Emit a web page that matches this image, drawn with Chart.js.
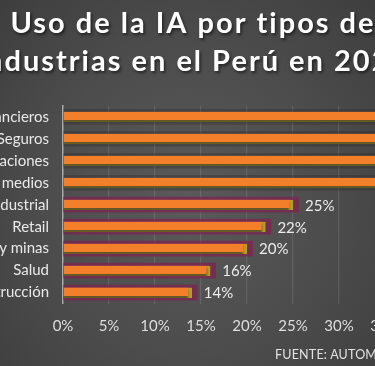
<!DOCTYPE html>
<html>
<head>
<meta charset="utf-8">
<script src="https://cdn.jsdelivr.net/npm/chart.js@4.4.1/dist/chart.umd.min.js"></script>
<style>
  html, body { margin:0; padding:0; }
  body { width:375px; height:366px; overflow:hidden; position:relative;
    background: radial-gradient(ellipse at 50% 55%, #5a5a5a 0%, #4c4c4c 55%, #3e3e3e 100%); }
  #wrap { position:absolute; left:-45px; top:0; width:491px; height:366px; }
  #src { position:absolute; left:275px; top:347px; font-family: Lato, sans-serif; font-size:12.5px;
    color:#e2e2e2; white-space:nowrap; letter-spacing:0.2px; }
</style>
</head>
<body>
<div id="wrap"><canvas id="c"></canvas></div>
<div id="src">FUENTE: AUTOMATIZACIÓN</div>
<script>
const categories = ["Servicios financieros","Banca y Seguros","Telecomunicaciones","Entretenimiento y medios","Sector industrial","Retail","Energía y minas","Salud","Construcción"];
const usoIA = [39, 38, 37, 36, 25, 22, 20, 16, 14];
const xTicks = [0, 5, 10, 15, 20, 25, 30, 35];
const titleLines = ["Uso de la IA por tipos de", "industrias en el Perú en 2023"];

const shadowColors = usoIA.map((v, i) => i < 4 ? 'rgba(35,35,35,0.3)' : 'rgba(125,35,80,0.75)');

const labelPlugin = {
  id: 'valLabels',
  afterDatasetsDraw(chart) {
    const meta = chart.getDatasetMeta(1);
    const ctx = chart.ctx;
    ctx.save();
    ctx.font = '15px Lato, sans-serif';
    ctx.fillStyle = '#ececec';
    ctx.textBaseline = 'middle';
    ctx.textAlign = 'left';
    meta.data.forEach((bar, i) => {
      ctx.fillText(usoIA[i] + '%', bar.x + 12, bar.y + 1);
    });
    ctx.restore();
  }
};
const shadowPlugin = {
  id: 'barShadow',
  afterInit(chart) {
    const tb = chart.titleBlock;
    if (tb && !tb._patched) {
      const orig = tb.draw;
      tb.draw = function() {
        const ctx = chart.ctx;
        ctx.save();
        ctx.letterSpacing = '2px';
        ctx.shadowColor = 'rgba(0,0,0,0.55)';
        ctx.shadowOffsetX = 1.5;
        ctx.shadowOffsetY = 2;
        ctx.shadowBlur = 3;
        orig.apply(this, arguments);
        ctx.restore();
      };
      tb._patched = true;
    }
  },
  beforeDatasetDraw(chart, args) {
    if (args.index === 1) {
      const ctx = chart.ctx;
      ctx.save();
      ctx.shadowColor = 'rgba(30,30,30,0.55)';
      ctx.shadowOffsetY = 3;
      ctx.shadowBlur = 2;
    }
  },
  afterDatasetDraw(chart, args) {
    if (args.index === 1) chart.ctx.restore();
  }
};

new Chart(document.getElementById('c'), {
  type: 'bar',
  data: {
    labels: categories,
    datasets: [
      { label: 'sombra', data: usoIA.map(v => v + 0.6), backgroundColor: shadowColors,
        barThickness: 15, order: 2, borderWidth: 0, grouped: false },
      { label: 'Uso de IA', data: usoIA, backgroundColor: '#F47F2A', borderColor: '#B79C2C',
        borderWidth: {top:0, left:0, right:4, bottom:2}, borderSkipped: false,
        barThickness: 10, order: 1, grouped: false }
    ]
  },
  options: {
    indexAxis: 'y',
    responsive: true,
    maintainAspectRatio: false,
    animation: false,
    layout: { padding: { left: 0, right: 15, top: 0, bottom: 16.4 } },
    plugins: {
      legend: { display: false },
      tooltip: { enabled: false },
      title: {
        display: true,
        text: titleLines,
        color: '#ffffff',
        font: { family: 'Lato, sans-serif', size: 29, weight: 'bold', lineHeight: 1.3 },
        padding: { top: 5, bottom: 25.4 }
      }
    },
    scales: {
      x: {
        min: 0, max: 40,
        afterBuildTicks(scale) { scale.ticks = xTicks.map(v => ({ value: v })); },
        ticks: { color: '#dedede', font: { family: 'Lato, sans-serif', size: 15 }, padding: 14,
          callback: v => v + '%' },
        grid: { color: 'rgba(255,255,255,0.11)', drawTicks: false, lineWidth: 1.2 },
        border: { display: false }
      },
      y: {
        afterFit(scale) { scale.width = 108; },
        ticks: { color: '#e8e8e8', font: { family: 'Lato, sans-serif', size: 15 }, padding: 14,
          autoSkip: false },
        grid: { display: false, drawTicks: false },
        border: { display: true, color: '#a8a8a8', width: 1.5 }
      }
    }
  },
  plugins: [labelPlugin, shadowPlugin]
});
</script>
</body>
</html>
